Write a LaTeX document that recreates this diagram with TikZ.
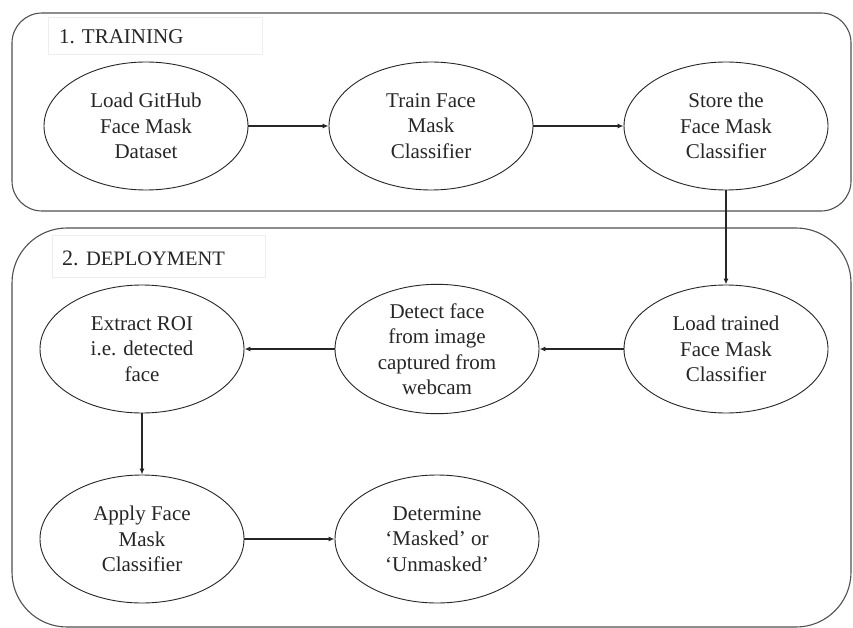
\documentclass[tikz,border=0pt]{standalone}
\usepackage{fontspec}
\setmainfont{Liberation Serif}
\usetikzlibrary{shapes.geometric,arrows.meta}
\definecolor{ink}{HTML}{262626}
\begin{document}
\begin{tikzpicture}[x=1pt,y=-1pt,
  stage/.style={ellipse,draw=ink,line width=0.9pt,minimum width=204pt,minimum height=128pt,inner sep=0pt,align=center,text=ink,font=\fontsize{21pt}{25.5pt}\selectfont},
  flow/.style={draw=ink,line width=1.3pt,-{Latex[length=6pt,width=5pt]}},
  group/.style={draw=ink!80,line width=1.1pt},
  tagbox/.style={draw=black!7,line width=0.8pt,fill=white},
  tagtext/.style={anchor=base west,text=ink,inner sep=0pt}
]
\useasboundingbox[fill=white] (0,0) rectangle (853,628);
% group frames
\draw[group,rounded corners=30pt] (12,13) rectangle (851,211);
\draw[group,rounded corners=55pt] (12,228) rectangle (851,627);
% title boxes
\draw[tagbox] (48,17) rectangle (262,54);
\node[tagtext,font=\fontsize{21pt}{25pt}\selectfont] (t1) at (59,44) {1. TRAINING};
\draw[tagbox] (52,235) rectangle (265,277);
\node[tagtext] (t2) at (62,265) {\fontsize{22pt}{25pt}\selectfont 2. \fontsize{20.5pt}{25pt}\selectfont DEPLOYMENT};
% stages
\node[stage] (loadgh) at (146,126) {Load GitHub\\Face Mask\\Dataset};
\node[stage] (train) at (431,126) {Train Face\\Mask\\Classifier};
\node[stage] (store) at (726,126) {Store the\\Face Mask\\Classifier};
\node[stage] (loadtr) at (726,349) {Load trained\\Face Mask\\Classifier};
\node[stage] (detect) at (437,349) {Detect face\\from image\\captured from\\webcam};
\node[stage] (extract) at (142,349) {Extract ROI\\i.e. detected\\face};
\node[stage] (apply) at (142,539) {Apply Face\\Mask\\Classifier};
\node[stage] (determine) at (437,539) {Determine\\‘Masked’ or\\‘Unmasked’};
% connectors
\draw[flow] (loadgh) -- (train);
\draw[flow] (train) -- (store);
\draw[flow] (store) -- (loadtr);
\draw[flow] (loadtr) -- (detect);
\draw[flow] (detect) -- (extract);
\draw[flow] (extract) -- (apply);
\draw[flow] (apply) -- (determine);
\end{tikzpicture}
\end{document}
